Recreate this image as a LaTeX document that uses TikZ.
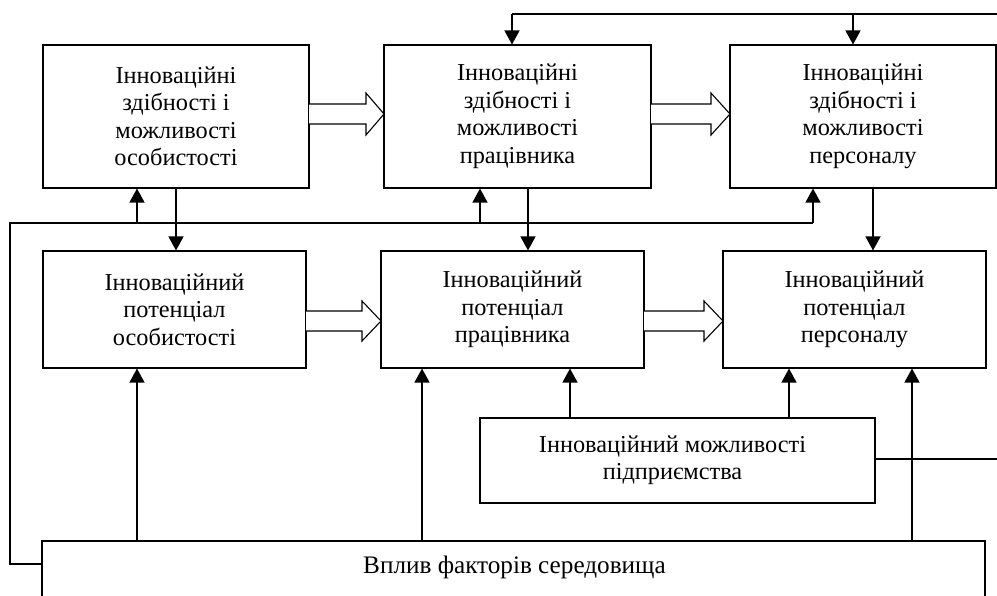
\documentclass[tikz,border=0pt]{standalone}
\usepackage{fontspec}
\setmainfont{Liberation Serif}
\usetikzlibrary{arrows.meta}
\begin{document}
\begin{tikzpicture}[x=1pt,y=-1pt,
  box/.style={draw, line width=1.1pt, align=center, inner sep=0pt,
    font=\fontsize{24.3}{27.5}\selectfont},
  arr/.style={line width=1.4pt, -{Triangle[length=14pt,width=15pt]}},
  ln/.style={line width=1.4pt},
  hol/.style={line width=1.1pt, fill=white, line join=miter}]
\clip (0,0) rectangle (997,595);
\fill[white] (0,0) rectangle (997,595);
% top row
\node[box, minimum width=266pt, minimum height=143pt] (b1) at (176,116.5)
  {Інноваційні\\здібності і\\можливості\\особистості};
\node[box, minimum width=267pt, minimum height=143pt] (b2) at (517.5,116.5)
  {Інноваційні\\здібності і\\можливості\\працівника};
\node[box, minimum width=266pt, minimum height=143pt] (b3) at (863,116.5)
  {Інноваційні\\здібності і\\можливості\\персоналу};
% middle row
\node[box, minimum width=263pt, minimum height=117pt] (b4) at (174.5,309.5)
  {Інноваційний\\потенціал\\особистості};
\node[box, minimum width=263pt, minimum height=117pt] (b5) at (512.5,309.5)
  {Інноваційний\\потенціал\\працівника};
\node[box, minimum width=263pt, minimum height=117pt] (b6) at (854.5,309.5)
  {Інноваційний\\потенціал\\персоналу};
% enterprise box
\node[box, minimum width=395pt, minimum height=85pt] (b7) at (677.5,460.5)
  {Інноваційний можливості\hspace*{10pt}\\підприємства\hspace*{10pt}};
% environment box
\node[box, minimum width=943pt, minimum height=80pt] (b8) at (513.5,581) {};
\node[font=\fontsize{25.2}{28}\selectfont, inner sep=0pt] (b8t) at (514.5,567)
  {Вплив факторів середовища};
% hollow arrows
\draw[hol] (309,104) -- (366,104) -- (366,93) -- (384,114) -- (366,135) -- (366,124) -- (309,124);
\draw[hol] (651,104) -- (711,104) -- (711,93) -- (730,114) -- (711,135) -- (711,124) -- (651,124);
\draw[hol] (306,311) -- (362,311) -- (362,301) -- (381,321) -- (362,341) -- (362,331) -- (306,331);
\draw[hol] (644,311) -- (704,311) -- (704,301) -- (723,321) -- (704,341) -- (704,331) -- (644,331);
% top feedback line
\coordinate (tr) at (1000,14);
\coordinate (t1) at (512,14);
\coordinate (t2) at (853,14);
\draw[ln] (tr) -- (t1);
\draw[arr] (t1) -- (t1 |- b2.north);
\draw[arr] (t2) -- (t2 |- b3.north);
% left loop
\coordinate (l1) at (10,564);
\coordinate (l2) at (10,223);
\coordinate (l3) at (813,223);
\coordinate (u1) at (137,223);
\coordinate (u2) at (480,223);
\draw[ln] (b8.west |- l1) -- (l1) -- (l2) -- (l3);
\draw[arr] (l3) -- (l3 |- b3.south);
\draw[arr] (u1) -- (u1 |- b1.south);
\draw[arr] (u2) -- (u2 |- b2.south);
% down arrows
\coordinate (d1) at (176,188);
\coordinate (d2) at (528,188);
\coordinate (d3) at (873,188);
\draw[arr] (d1) -- (d1 |- b4.north);
\draw[arr] (d2) -- (d2 |- b5.north);
\draw[arr] (d3) -- (d3 |- b6.north);
% up arrows from environment
\coordinate (e1) at (137,541);
\coordinate (e2) at (422,541);
\coordinate (e3) at (912,541);
\draw[arr] (e1) -- (e1 |- b4.south);
\draw[arr] (e2) -- (e2 |- b5.south);
\draw[arr] (e3) -- (e3 |- b6.south);
% up arrows from enterprise
\coordinate (p1) at (570,418);
\coordinate (p2) at (789,418);
\draw[arr] (p1) -- (p1 |- b5.south);
\draw[arr] (p2) -- (p2 |- b6.south);
% enterprise right line
\coordinate (r1) at (1000,459);
\draw[line width=1.1pt] (b7.east |- r1) -- (r1);
\end{tikzpicture}
\end{document}
